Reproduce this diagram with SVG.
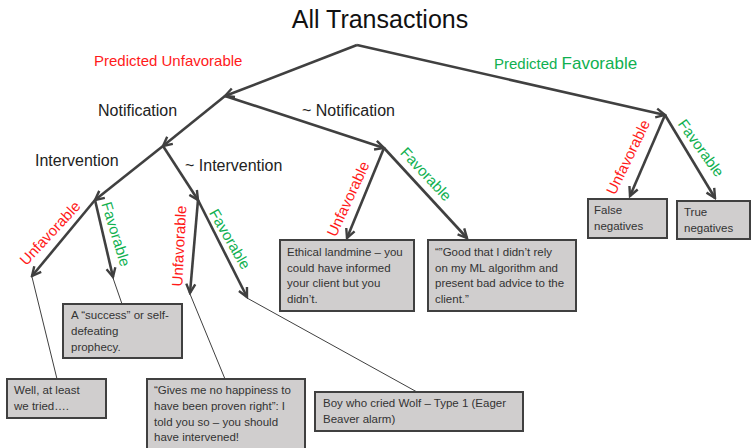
<svg xmlns="http://www.w3.org/2000/svg" width="751" height="448" viewBox="0 0 751 448">
<defs>
<marker id="arr" viewBox="0 0 12 12" markerWidth="12" markerHeight="12" refX="10" refY="6" orient="auto" markerUnits="userSpaceOnUse">
<path d="M1,1.5 L10,6 L1,10.5" fill="none" stroke="#404040" stroke-width="2.4" stroke-linejoin="miter"/>
</marker>
<style>
text{font-family:"Liberation Sans",Arial,sans-serif}
.title{font-size:25px;fill:#111}
.lbl{font-size:16px;fill:#222}
.red{fill:#ff1a1a;font-size:15px}
.grn{fill:#10b050;font-size:15px}
.rot{text-anchor:middle}
.box{fill:#d0cece;stroke:#404040;stroke-width:2}
.bt{font-size:11.5px;fill:#333}
.arw{stroke:#404040;stroke-width:2.6;fill:none;marker-end:url(#arr)}
.lead{stroke:#404040;stroke-width:1;fill:none}
</style>
</defs>
<rect width="751" height="448" fill="#ffffff"/>
<text class="title" x="380" y="28" text-anchor="middle">All Transactions</text>

<g id="connectors">
<line class="arw" x1="357" y1="45" x2="225" y2="96"/>
<line class="arw" x1="357" y1="45" x2="665" y2="115"/>
<line class="arw" x1="225" y1="96" x2="163" y2="146"/>
<line class="arw" x1="225" y1="96" x2="384" y2="148"/>
<line class="arw" x1="163" y1="146" x2="95" y2="200"/>
<line class="arw" x1="163" y1="146" x2="198" y2="200"/>
<line class="arw" x1="95" y1="200" x2="32" y2="276"/>
<line class="arw" x1="95" y1="200" x2="113" y2="277"/>
<line class="arw" x1="198" y1="200" x2="190" y2="293"/>
<line class="arw" x1="198" y1="200" x2="247" y2="297"/>
<line class="arw" x1="384" y1="148" x2="347" y2="238"/>
<line class="arw" x1="384" y1="148" x2="467" y2="238"/>
<line class="arw" x1="665" y1="115" x2="630" y2="196"/>
<line class="arw" x1="665" y1="115" x2="715" y2="198"/>
<line class="lead" x1="32" y1="277" x2="57" y2="379"/>
<line class="lead" x1="113" y1="278" x2="122" y2="304"/>
<line class="lead" x1="190" y1="294" x2="225" y2="379"/>
<line class="lead" x1="247" y1="298" x2="417" y2="392"/>
</g>

<g id="edge-labels">
<text class="red" x="94" y="66" font-size="15.5">Predicted Unfavorable</text>
<text class="grn" x="494" y="69"><tspan font-size="15">Predicted </tspan><tspan font-size="17">Favorable</tspan></text>
<text class="lbl" x="98" y="116">Notification</text>
<text class="lbl" x="302" y="116">~ Notification</text>
<text class="lbl" x="35" y="166">Intervention</text>
<text class="lbl" x="185" y="171">~ Intervention</text>
<text class="red rot" transform="translate(50,233) rotate(-47)" dy="0.35em">Unfavorable</text>
<text class="grn rot" transform="translate(116,234) rotate(73)" dy="0.35em">Favorable</text>
<text class="red rot" transform="translate(179,246) rotate(-87)" dy="0.35em" font-size="16">Unfavorable</text>
<text class="grn rot" transform="translate(230,239) rotate(60)" dy="0.35em">Favorable</text>
<text class="red rot" transform="translate(348,199) rotate(-65)" dy="0.35em" font-size="16">Unfavorable</text>
<text class="grn rot" transform="translate(426,174) rotate(47)" dy="0.35em">Favorable</text>
<text class="red rot" transform="translate(628,157) rotate(-64)" dy="0.35em">Unfavorable</text>
<text class="grn rot" transform="translate(701,148) rotate(54)" dy="0.35em">Favorable</text>
</g>

<g id="node-success">
<rect class="box" x="63" y="304" width="119" height="54"/>
<text class="bt" x="71" y="319">A “success” or self-</text>
<text class="bt" x="71" y="335">defeating</text>
<text class="bt" x="71" y="351">prophecy.</text>
</g>
<g id="node-tried">
<rect class="box" x="7" y="379" width="99" height="39"/>
<text class="bt" x="14" y="394">Well, at least</text>
<text class="bt" x="14" y="410">we tried….</text>
</g>
<g id="node-gives">
<rect class="box" x="147" y="379" width="158" height="70"/>
<text class="bt" x="154" y="394">“Gives me no happiness to</text>
<text class="bt" x="154" y="410">have been proven right”: I</text>
<text class="bt" x="154" y="426">told you so – you should</text>
<text class="bt" x="154" y="441">have intervened!</text>
</g>
<g id="node-boy">
<rect class="box" x="315" y="392" width="208" height="39"/>
<text class="bt" x="323" y="407">Boy who cried Wolf – Type 1 (Eager</text>
<text class="bt" x="323" y="423">Beaver alarm)</text>
</g>
<g id="node-ethical">
<rect class="box" x="280" y="240" width="134" height="71"/>
<text class="bt" x="287" y="256">Ethical landmine – you</text>
<text class="bt" x="287" y="272">could have informed</text>
<text class="bt" x="287" y="287">your client but you</text>
<text class="bt" x="287" y="303">didn’t.</text>
</g>
<g id="node-good">
<rect class="box" x="428" y="240" width="148" height="71"/>
<text class="bt" x="435" y="256">“”Good that I didn’t rely</text>
<text class="bt" x="435" y="272">on my ML algorithm and</text>
<text class="bt" x="435" y="287">present bad advice to the</text>
<text class="bt" x="435" y="303">client.”</text>
</g>
<g id="node-fn">
<rect class="box" x="588" y="199" width="79" height="39"/>
<text class="bt" x="594" y="214">False</text>
<text class="bt" x="594" y="230">negatives</text>
</g>
<g id="node-tn">
<rect class="box" x="677" y="201" width="73" height="38"/>
<text class="bt" x="684" y="216">True</text>
<text class="bt" x="684" y="232">negatives</text>
</g>
</svg>
